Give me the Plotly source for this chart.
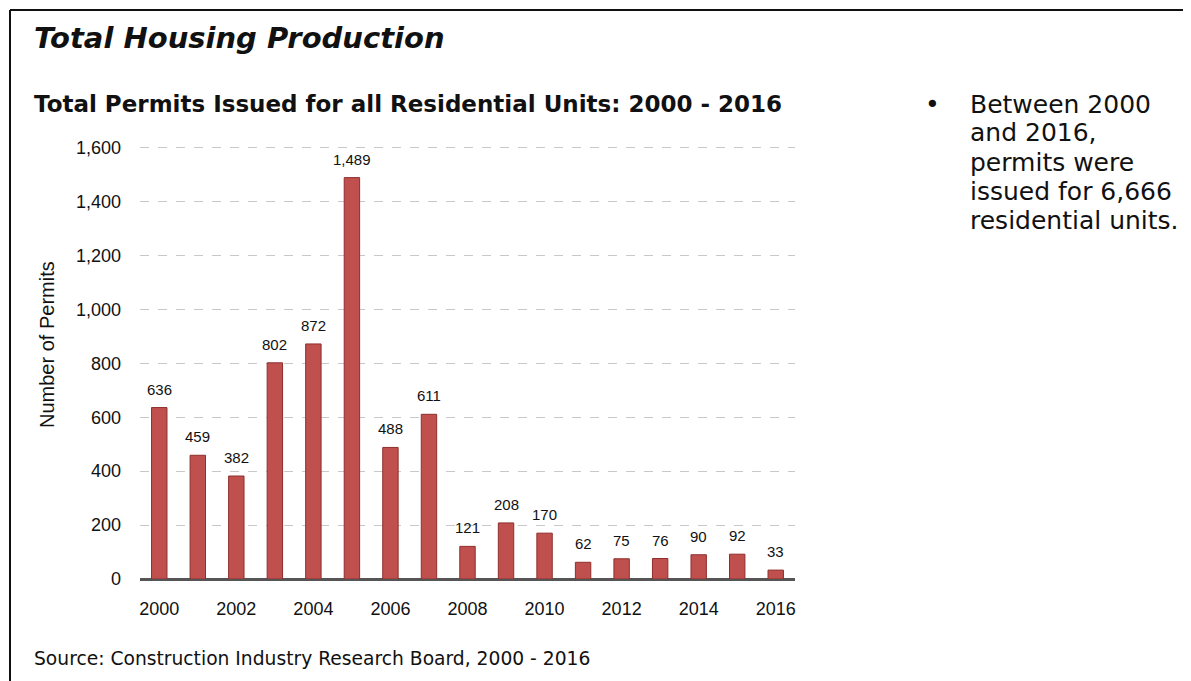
import plotly.graph_objects as go

years = list(range(2000, 2017))
permits = [636, 459, 382, 802, 872, 1489, 488, 611, 121, 208, 170, 62, 75, 76, 90, 92, 33]
tick_years = list(range(2000, 2017, 2))
y_ticks = [0, 200, 400, 600, 800, 1000, 1200, 1400, 1600]
y_tick_text = [f"{v:,}" for v in y_ticks]

title_text = "Total Housing Production"
subtitle_text = "Total Permits Issued for all Residential Units: 2000 - 2016"
source_text = "Source: Construction Industry Research Board, 2000 - 2016"
y_title = "Number of Permits"
bullet_lines = ["Between 2000", "and 2016,", "permits were", "issued for 6,666", "residential units."]

OFF = 8  # page body margin
W, H = 1191, 681
L, R, T, B = 140, 396, 145, 102
PW, PH = W - L - R, H - T - B

def px(x):
    return (x - L) / PW

def py(y):
    return (H - B - y) / PH

fig = go.Figure()
fig.add_trace(go.Bar(
    x=years, y=permits, width=0.4,
    marker=dict(color="#c0504d", line=dict(color="#8e2f2c", width=1)),
    hoverinfo="x+y",
))

annotations = []
for yr, v in zip(years, permits):
    annotations.append(dict(x=yr, y=v, xref="x", yref="y", text=f"{v:,}", showarrow=False,
                            yanchor="bottom", yshift=8,
                            font=dict(family="Liberation Sans, Arial", size=15, color="#111")))

annotations += [
    dict(x=px(32), y=py(38), xref="paper", yref="paper", text=f"<b><i>{title_text}</i></b>",
         showarrow=False, xanchor="left", yanchor="middle",
         font=dict(family="DejaVu Sans", size=29, color="#111")),
    dict(x=px(32), y=py(104), xref="paper", yref="paper", text=f"<b>{subtitle_text}</b>",
         showarrow=False, xanchor="left", yanchor="middle",
         font=dict(family="DejaVu Sans", size=23, color="#111")),
    dict(x=px(32), y=py(658), xref="paper", yref="paper", text=source_text,
         showarrow=False, xanchor="left", yanchor="middle",
         font=dict(family="DejaVu Sans", size=18.7, color="#111")),
    dict(x=px(47), y=py(345), xref="paper", yref="paper", text=y_title, textangle=-90,
         showarrow=False, xanchor="center", yanchor="middle",
         font=dict(family="Liberation Sans, Arial", size=20, color="#111")),
    dict(x=px(932), y=py(104), xref="paper", yref="paper", text="•",
         showarrow=False, xanchor="center", yanchor="middle",
         font=dict(family="DejaVu Sans", size=25, color="#111")),
]
for i, line in enumerate(bullet_lines):
    annotations.append(dict(x=px(968), y=py(104 + 29 * i), xref="paper", yref="paper", text=line,
                            showarrow=False, xanchor="left", yanchor="middle",
                            font=dict(family="DejaVu Sans", size=25, color="#111")))

shapes = [
    dict(type="line", xref="paper", yref="paper", x0=px(10), x1=px(1200), y0=py(10), y1=py(10),
         line=dict(color="#111", width=2)),
    dict(type="line", xref="paper", yref="paper", x0=px(10), x1=px(10), y0=py(10), y1=py(700),
         line=dict(color="#111", width=2)),
]

fig.update_layout(
    width=W - OFF, height=H - OFF,
    margin=dict(l=L - OFF, r=R, t=T - OFF, b=B),
    paper_bgcolor="white", plot_bgcolor="white",
    showlegend=False,
    annotations=annotations,
    shapes=shapes,
    xaxis=dict(range=[1999.5, 2016.5], tickmode="array", tickvals=tick_years,
               ticktext=[str(t) for t in tick_years], showgrid=False, showline=False, zeroline=False,
               ticks="", ticklabelstandoff=17,
               tickfont=dict(family="Liberation Sans, Arial", size=18, color="#111")),
    yaxis=dict(range=[0, 1610], tickmode="array", tickvals=y_ticks, ticktext=y_tick_text,
               showgrid=True, gridcolor="#c8c8c8", griddash="dash", gridwidth=1,
               zeroline=True, zerolinecolor="#555", zerolinewidth=3, showline=False,
               ticks="", ticklabelstandoff=18,
               tickfont=dict(family="Liberation Sans, Arial", size=18, color="#111")),
)

fig.write_html("out.html")
